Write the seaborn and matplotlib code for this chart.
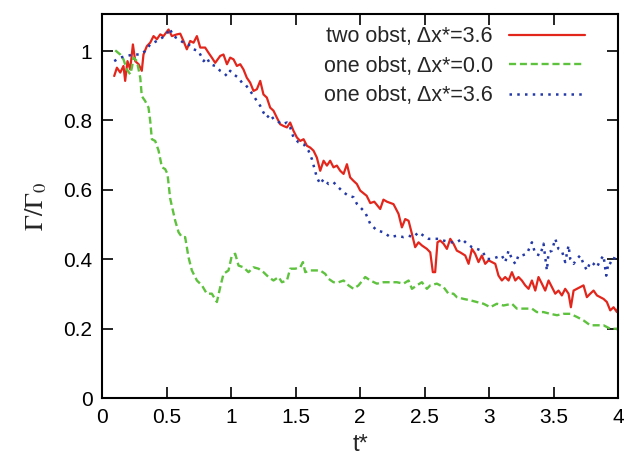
import matplotlib
matplotlib.use("Agg")
import matplotlib.pyplot as plt
import seaborn as sns
import pandas as pd

# --- data ---------------------------------------------------------------
t_two36 = [0.093,0.114,0.140,0.165,0.178,0.196,0.217,0.238,0.256,0.282,
           0.307,0.320,0.346,0.372,0.398,0.424,0.450,0.475,0.514,0.540,
           0.579,0.605,0.630,0.656,0.682,0.708,0.734,0.760,0.798,0.824,
           0.850,0.876,0.915,0.940,0.967,0.992,1.018,1.044,1.070,1.095,
           1.121,1.147,1.173,1.199,1.225,1.250,1.276,1.302,1.328,1.354,
           1.380,1.406,1.432,1.457,1.483,1.509,1.535,1.561,1.587,1.612,
           1.638,1.664,1.690,1.716,1.742,1.767,1.793,1.819,1.845,1.871,
           1.897,1.922,1.948,1.974,2.000,2.050,2.078,2.109,2.155,2.180,
           2.207,2.258,2.297,2.323,2.349,2.375,2.401,2.426,2.452,2.478,
           2.517,2.543,2.563,2.581,2.599,2.620,2.646,2.672,2.698,2.723,
           2.749,2.775,2.814,2.840,2.866,2.891,2.917,2.943,2.969,2.995,
           3.021,3.047,3.072,3.098,3.124,3.150,3.176,3.202,3.227,3.253,
           3.279,3.305,3.331,3.357,3.382,3.408,3.434,3.460,3.486,3.512,
           3.537,3.563,3.589,3.615,3.633,3.654,3.680,3.705,3.731,3.757,
           3.783,3.809,3.835,3.860,3.886,3.912,3.938,3.964,3.990,4.000]
g_two36 = [0.928,0.952,0.938,0.957,0.914,0.971,0.947,1.019,0.971,0.962,
           0.943,0.990,1.014,1.024,1.043,1.034,1.048,1.043,1.062,1.043,
           1.048,1.050,1.029,1.005,1.029,1.024,1.043,1.010,1.010,0.995,
           0.981,0.966,0.986,0.990,0.962,0.981,0.976,0.957,0.962,0.947,
           0.923,0.909,0.885,0.890,0.914,0.875,0.866,0.837,0.828,0.808,
           0.789,0.784,0.780,0.794,0.770,0.751,0.741,0.746,0.727,0.722,
           0.713,0.693,0.655,0.684,0.670,0.684,0.665,0.670,0.655,0.646,
           0.674,0.636,0.626,0.617,0.598,0.583,0.562,0.566,0.545,0.572,
           0.566,0.559,0.531,0.492,0.516,0.511,0.473,0.435,0.449,0.440,
           0.430,0.420,0.363,0.363,0.449,0.454,0.445,0.430,0.459,0.445,
           0.425,0.420,0.411,0.387,0.430,0.416,0.392,0.411,0.387,0.397,
           0.392,0.387,0.353,0.339,0.349,0.339,0.363,0.339,0.349,0.339,
           0.325,0.315,0.339,0.310,0.349,0.330,0.310,0.339,0.320,0.301,
           0.310,0.296,0.315,0.301,0.262,0.310,0.315,0.320,0.325,0.291,
           0.301,0.310,0.296,0.291,0.286,0.277,0.253,0.262,0.248,0.262]

t_one00 = [0.101,0.140,0.165,0.191,0.217,0.230,0.243,0.269,0.295,0.307,
           0.333,0.359,0.372,0.385,0.411,0.437,0.463,0.488,0.506,0.527,
           0.566,0.592,0.618,0.643,0.669,0.695,0.734,0.773,0.811,0.850,
           0.889,0.915,0.940,0.979,1.005,1.031,1.057,1.095,1.134,1.173,
           1.212,1.250,1.289,1.328,1.367,1.393,1.432,1.457,1.496,1.535,
           1.556,1.574,1.612,1.651,1.690,1.729,1.754,1.793,1.832,1.871,
           1.909,1.948,1.987,2.039,2.078,2.129,2.181,2.233,2.284,2.336,
           2.375,2.401,2.439,2.478,2.517,2.543,2.594,2.646,2.684,2.723,
           2.749,2.801,2.853,2.904,2.956,3.008,3.059,3.111,3.176,3.214,
           3.266,3.331,3.369,3.421,3.473,3.525,3.576,3.628,3.680,3.731,
           3.783,3.835,3.886,3.938,3.990,4.000]
g_one00 = [1.002,0.990,0.976,0.947,0.933,0.952,0.981,0.971,0.923,0.870,
           0.856,0.837,0.799,0.746,0.741,0.713,0.665,0.660,0.646,0.575,
           0.511,0.478,0.464,0.464,0.406,0.368,0.339,0.325,0.301,0.301,
           0.277,0.320,0.358,0.368,0.411,0.416,0.382,0.377,0.363,0.377,
           0.373,0.363,0.349,0.339,0.349,0.334,0.339,0.373,0.373,0.377,
           0.392,0.363,0.368,0.368,0.368,0.358,0.344,0.334,0.334,0.339,
           0.325,0.315,0.325,0.349,0.339,0.330,0.334,0.334,0.334,0.330,
           0.339,0.315,0.325,0.334,0.315,0.325,0.330,0.320,0.301,0.301,
           0.291,0.286,0.282,0.277,0.272,0.262,0.272,0.267,0.272,0.258,
           0.258,0.258,0.248,0.248,0.243,0.239,0.243,0.243,0.234,0.224,
           0.210,0.210,0.210,0.200,0.200,0.195]

t_one36 = [0.093,0.140,0.191,0.243,0.295,0.333,0.372,0.424,0.463,0.501,
           0.522,0.553,0.592,0.630,0.669,0.708,0.747,0.786,0.811,0.837,
           0.876,0.915,0.940,0.967,0.992,1.018,1.057,1.083,1.109,1.147,
           1.173,1.199,1.225,1.250,1.276,1.302,1.328,1.354,1.393,1.432,
           1.457,1.483,1.522,1.561,1.599,1.625,1.664,1.690,1.716,1.754,
           1.793,1.832,1.871,1.909,1.948,1.974,2.039,2.078,2.129,2.181,
           2.233,2.284,2.336,2.375,2.413,2.452,2.491,2.530,2.568,2.607,
           2.646,2.698,2.749,2.788,2.827,2.866,2.904,2.943,2.982,3.021,
           3.059,3.098,3.124,3.150,3.176,3.202,3.227,3.253,3.292,3.331,
           3.357,3.395,3.421,3.447,3.460,3.486,3.512,3.537,3.563,3.589,
           3.615,3.628,3.654,3.680,3.705,3.731,3.757,3.783,3.809,3.835,
           3.860,3.886,3.907,3.925,3.951,3.977,4.000]
g_one36 = [0.971,0.981,0.986,0.990,0.990,1.000,1.019,1.029,1.038,1.048,
           1.065,1.043,1.034,1.024,1.019,1.005,1.000,0.971,0.981,0.962,
           0.957,0.943,0.938,0.928,0.943,0.933,0.923,0.909,0.904,0.885,
           0.871,0.856,0.842,0.823,0.808,0.818,0.804,0.799,0.789,0.794,
           0.780,0.751,0.737,0.732,0.713,0.689,0.636,0.617,0.631,0.617,
           0.622,0.607,0.593,0.583,0.579,0.560,0.535,0.502,0.483,0.478,
           0.464,0.468,0.464,0.468,0.464,0.478,0.468,0.459,0.459,0.459,
           0.454,0.449,0.449,0.459,0.445,0.435,0.430,0.425,0.401,0.401,
           0.406,0.411,0.392,0.425,0.401,0.387,0.411,0.411,0.416,0.449,
           0.416,0.411,0.445,0.368,0.420,0.425,0.459,0.430,0.425,0.392,
           0.440,0.401,0.387,0.401,0.411,0.387,0.368,0.392,0.387,0.377,
           0.397,0.411,0.353,0.392,0.387,0.411,0.406]

series_labels = ["two obst, Δx*=3.6", "one obst, Δx*=0.0", "one obst, Δx*=3.6"]
x_ticks = [0, 0.5, 1, 1.5, 2, 2.5, 3, 3.5, 4]
x_tick_labels = ["0", "0.5", "1", "1.5", "2", "2.5", "3", "3.5", "4"]
y_ticks = [0, 0.2, 0.4, 0.6, 0.8, 1.0]
y_tick_labels = ["0", "0.2", "0.4", "0.6", "0.8", "1"]

# --- figure -------------------------------------------------------------
sns.set_style("ticks")
plt.rcParams["font.family"] = ["Liberation Sans", "DejaVu Sans"]
plt.rcParams["mathtext.fontset"] = "stix"

fig, ax = plt.subplots(figsize=(6.27, 4.63), dpi=100)
fig.subplots_adjust(left=0.163, right=0.986, top=0.970, bottom=0.140)

styles = [
    dict(color="#e3261c", lw=1.6, ls="-"),
    dict(color="#5ec23e", lw=1.7, ls=(0, (3.0, 1.6))),
    dict(color="#2439a8", lw=1.8, ls=(0, (1.0, 2.1))),
]
for (t, g), lab, st in zip([(t_two36, g_two36), (t_one00, g_one00), (t_one36, g_one36)],
                           series_labels, styles):
    df = pd.DataFrame({"t": t, "g": g})
    sns.lineplot(data=df, x="t", y="g", ax=ax, estimator=None, sort=False,
                 color=st["color"], linewidth=st["lw"], linestyle=st["ls"],
                 label=lab)

ax.set_xlim(0, 4)
ax.set_ylim(0, 1.107)
ax.set_xticks(x_ticks)
ax.set_xticklabels(x_tick_labels)
ax.set_yticks(y_ticks)
ax.set_yticklabels(y_tick_labels)
ax.tick_params(direction="in", length=8, width=1.2, top=True, right=True,
               labelsize=15, colors="black", pad=7)
for sp in ax.spines.values():
    sp.set_visible(True)
    sp.set_linewidth(1.5)
    sp.set_color("black")

ax.set_xlabel("t*", fontsize=17, labelpad=5)
ax.set_ylabel(r"$\Gamma/\Gamma_0$", fontsize=19, labelpad=10)

leg = ax.legend(loc="upper right", bbox_to_anchor=(0.936, 0.968), frameon=False,
                markerfirst=False, fontsize=15.5, handlelength=3.55,
                handletextpad=0.75, labelspacing=0.4, borderaxespad=0.0,
                borderpad=0.0)

fig.savefig("out.png", dpi=100)
